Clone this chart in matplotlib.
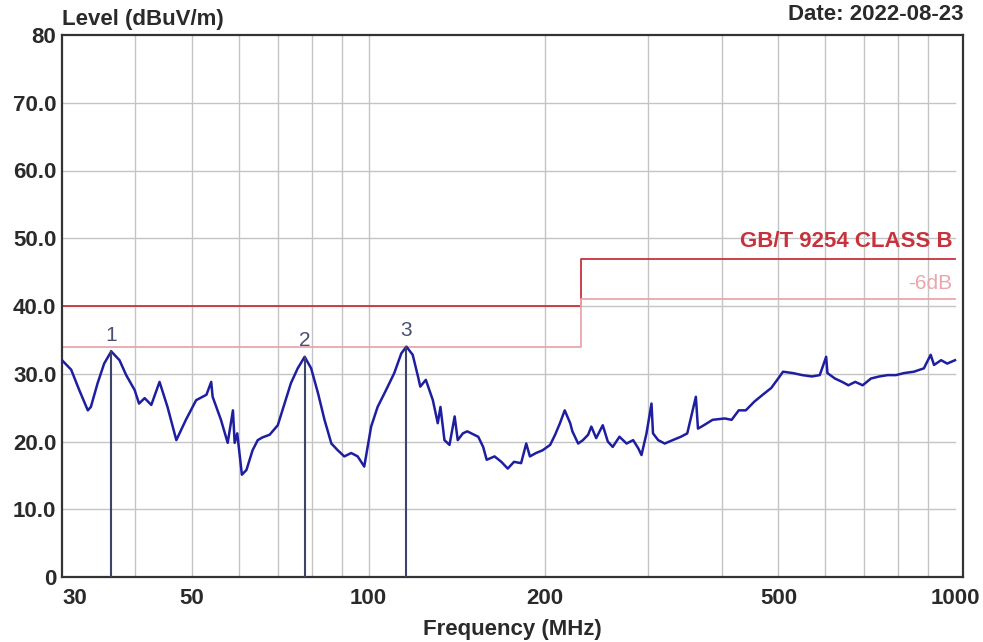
import numpy as np
import matplotlib.pyplot as plt
from matplotlib.ticker import FixedLocator, NullFormatter

plt.rcParams['font.family'] = ['Liberation Sans', 'DejaVu Sans']

freq = [30.0, 31.1, 32.1, 33.2, 33.6, 34.5, 35.4, 36.4, 37.6, 38.6, 39.9, 40.6, 41.5, 42.6,
        44.0, 45.4, 47.0, 48.8, 50.8, 52.9, 53.9, 54.2, 56.0, 57.5, 58.7, 59.1, 59.7, 60.3,
        60.8, 61.9, 63.4, 64.7, 65.9, 67.8, 70.0, 71.9, 73.7, 75.7, 77.8, 79.8, 82.0, 84.1,
        86.4, 88.6, 90.9, 93.4, 95.8, 98.3, 101.0, 103.6, 107.1, 110.6, 113.7, 116.0, 118.9,
        121.4, 122.5, 125.2, 128.7, 131.2, 132.6, 134.7, 137.4, 140.2, 141.9, 144.8, 147.3,
        153.8, 156.8, 159.0, 164.0, 168.4, 172.7, 177.0, 182.0, 185.7, 188.4, 193.0, 198.0,
        204.0, 208.0, 212.0, 216.0, 220.7, 222.6, 227.7, 232.0, 236.8, 239.8, 244.4, 250.8,
        255.8, 260.8, 267.8, 275.4, 282.6, 288.3, 292.0, 297.8, 303.7, 305.5, 311.8, 319.9,
        330.0, 340.8, 349.5, 361.5, 364.5, 373.0, 386.0, 405.0, 416.0, 427.8, 439.8, 455.0,
        470.0, 486.0, 499.5, 509.0, 529.0, 549.0, 570.0, 588.0, 603.0, 606.0, 624.0, 642.0,
        658.0, 676.0, 696.0, 719.0, 743.0, 768.0, 793.0, 819.0, 851.0, 885.0, 909.0, 921.0,
        947.0, 970.0, 1000.0]
level = [32.0, 30.6, 27.6, 24.6, 25.1, 28.6, 31.5, 33.3, 32.0, 29.8, 27.6, 25.6, 26.4, 25.4,
         28.8, 25.1, 20.2, 23.2, 26.1, 26.9, 28.8, 26.6, 23.2, 19.8, 24.6, 19.8, 21.2, 17.8,
         15.1, 15.8, 18.7, 20.2, 20.6, 21.0, 22.4, 25.6, 28.6, 30.8, 32.5, 30.8, 27.1, 23.2,
         19.7, 18.7, 17.8, 18.3, 17.8, 16.3, 22.2, 25.1, 27.6, 30.1, 33.0, 34.0, 32.8,
         29.6, 28.1, 29.1, 26.1, 22.7, 25.1, 20.2, 19.5, 23.7, 20.2, 21.2, 21.5,
         20.7, 19.2, 17.3, 17.8, 17.0, 16.0, 17.0, 16.8, 19.7, 17.8, 18.3, 18.7,
         19.5, 21.0, 22.7, 24.6, 22.7, 21.5, 19.7, 20.2, 21.0, 22.2, 20.5, 22.4,
         20.0, 19.2, 20.7, 19.7, 20.2, 19.0, 18.0, 21.2, 25.6, 21.2, 20.2, 19.7,
         20.2, 20.7, 21.2, 26.6, 21.9, 22.4, 23.2, 23.4, 23.2, 24.6, 24.6, 25.9,
         26.9, 27.9, 29.3, 30.3, 30.1, 29.8, 29.6, 29.8, 32.5, 30.1, 29.3, 28.8,
         28.3, 28.8, 28.3, 29.3, 29.6, 29.8, 29.8, 30.1, 30.3, 30.8, 32.8, 31.3,
         32.0, 31.5, 32.0]

# limit lines
limit_freq = [30, 230, 230, 1000]
limit_level = [40, 40, 47, 47]
margin_level = [34, 34, 41, 41]

# peak markers
marker_freq = [36.4, 77.8, 116.0]
marker_level = [33.3, 32.5, 34.0]
marker_names = ['1', '2', '3']

xtick_vals = [30, 50, 100, 200, 500, 1000]
xgrid_vals = [40, 50, 60, 70, 80, 90, 100, 200, 300, 400, 500, 600, 700, 800, 900]
ytick_vals = [0, 10, 20, 30, 40, 50, 60, 70, 80]
ytick_labels = ['0', '10.0', '20.0', '30.0', '40.0', '50.0', '60.0', '70.0', '80']

fig = plt.figure(figsize=(9.83, 6.42), dpi=100)
ax = fig.add_axes([62 / 983, 65 / 642, 901 / 983, 542 / 642])

ax.set_xscale('log')
ax.set_xlim(30, 1032)
ax.set_ylim(0, 80)

# grid (horizontal lines stop at 1000 MHz like the original)
grid_end = np.log10(1000 / 30) / np.log10(1032 / 30)
for gx in xgrid_vals:
    ax.axvline(gx, color='#c4c4c4', lw=1.0, zorder=0)
for gy in ytick_vals[1:-1]:
    ax.axhline(gy, xmax=grid_end, color='#c4c4c4', lw=1.0, zorder=0)

ax.plot(limit_freq, limit_level, color='#c8323c', lw=1.3, zorder=2)
ax.plot(limit_freq, margin_level, color='#eba6ac', lw=1.3, zorder=2)
ax.text(990, 47.9, 'GB/T 9254 CLASS B', color='#c8323c', fontsize=16, fontweight='bold',
        ha='right', va='bottom')
ax.text(990, 41.9, '-6dB', color='#eba6ac', fontsize=15, ha='right', va='bottom')

ax.plot(freq, level, color='#1e1ea0', lw=1.8, zorder=3)

for f, lv, name in zip(marker_freq, marker_level, marker_names):
    ax.plot([f, f], [0, lv], color='#3c4468', lw=1.5, zorder=4)
    ax.text(f, lv + 1.0, name, color='#4a5074', fontsize=15, ha='center', va='bottom')

ax.xaxis.set_major_locator(FixedLocator(xtick_vals))
ax.xaxis.set_minor_locator(FixedLocator([]))
ax.xaxis.set_minor_formatter(NullFormatter())
ax.set_xticklabels(['30', '50', '100', '200', '500', '1000'])
ax.set_yticks(ytick_vals)
ax.set_yticklabels(ytick_labels)
ax.tick_params(length=0, labelsize=16, colors='#2a2a2a')
ax.tick_params(axis='x', pad=8)
ax.tick_params(axis='y', pad=4)
for lab in ax.get_xticklabels() + ax.get_yticklabels():
    lab.set_fontweight('bold')
ax.get_xticklabels()[0].set_horizontalalignment('left')

for sp in ax.spines.values():
    sp.set_color('#333333')
    sp.set_linewidth(1.6)

ax.set_xlabel('Frequency (MHz)', fontsize=16, fontweight='bold', color='#2a2a2a', labelpad=7)
fig.text(62 / 983, 1 - 19 / 642, 'Level (dBuV/m)', fontsize=16, fontweight='bold',
         color='#2a2a2a', ha='left', va='center')
fig.text(963 / 983, 1 - 14 / 642, 'Date: 2022-08-23', fontsize=16, fontweight='bold',
         color='#2a2a2a', ha='right', va='center')

fig.savefig('out.png', dpi=100)
